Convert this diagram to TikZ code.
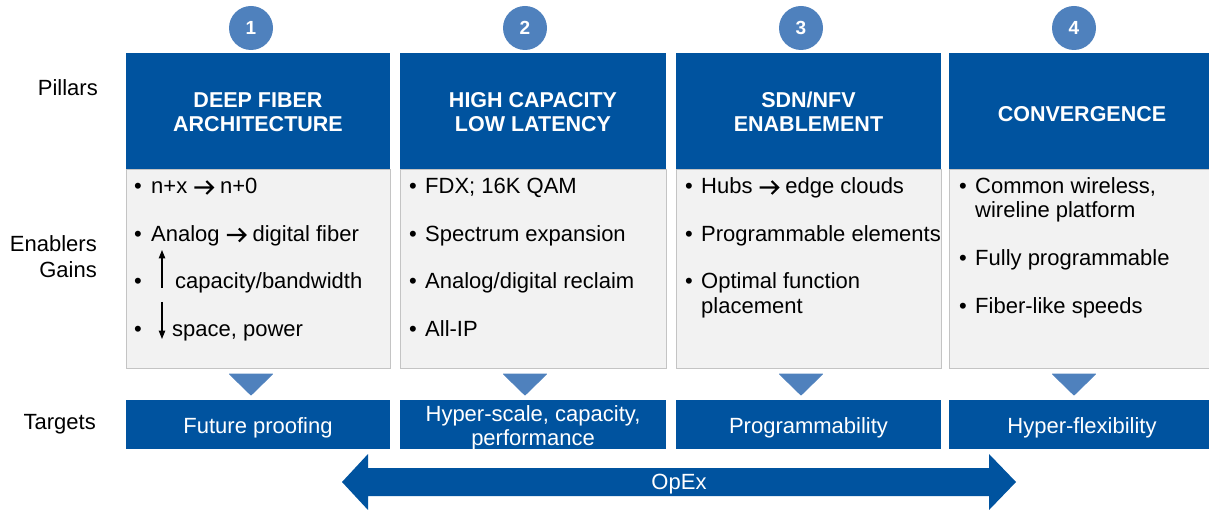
\documentclass[tikz,border=0pt]{standalone}
\usepackage{fontspec}
\setmainfont{Liberation Sans}
\usetikzlibrary{arrows.meta}
\definecolor{darkblue}{HTML}{00539F}
\definecolor{lightblue}{HTML}{4F81BD}
\definecolor{panelgray}{HTML}{F2F2F2}
\definecolor{panelline}{HTML}{C4C4C4}
\newcommand{\rarr}{\tikz[baseline=0pt,x=1pt,y=1pt]{\draw[line width=2.1pt,line join=miter,line cap=butt] (0.5,6.5) -- (19,6.5) (12.5,0) -- (19,6.5) -- (12.5,13);}}
\tikzset{
  header/.style={fill=darkblue, draw=none},
  panel/.style={fill=panelgray, draw=panelline, line width=0.8pt},
  target/.style={fill=darkblue, draw=none},
  numcircle/.style={circle, fill=lightblue, minimum size=44pt, inner sep=0pt, text=white, font=\bfseries\fontsize{19}{21}\selectfont},
  headtext/.style={text=white, align=center, inner sep=0pt, font=\bfseries\fontsize{21.5}{24}\selectfont},
  targettext/.style={text=white, align=center, inner sep=0pt, font=\fontsize{22}{24}\selectfont},
  bultext/.style={anchor=base west, inner sep=0pt, text=black, font=\fontsize{22}{24}\selectfont},
  rowlabel/.style={anchor=base east, inner sep=0pt, align=right, text=black, font=\fontsize{22}{24}\selectfont},
  pointer/.style={fill=lightblue, draw=lightblue, line width=1pt, line join=round},
  gainarrow/.style={line width=1.1pt, -{Triangle[width=6.5pt,length=8.5pt]}}
}
\begin{document}
\begin{tikzpicture}[x=1pt,y=-1pt]
\useasboundingbox (0,0) rectangle (1209,510);
\clip (0,0) rectangle (1209,510);
% row labels
\node[rowlabel] (lp) at (98,96) {Pillars};
\node[rowlabel] (le) at (97,252) {Enablers};
\node[rowlabel] (lg) at (97,278) {Gains};
\node[rowlabel] (lt) at (96,429) {Targets};
% columns
\foreach \i/\l/\r in {1/126/390, 2/400/666, 3/676/941, 4/949/1215}{
  \draw[panel] (\l,169) rectangle (\r,368);
  \fill[header] (\l,53) rectangle (\r,169);
  \fill[target] (\l,400) rectangle (\r,449);
  \pgfmathsetmacro{\cx}{\l+125}
  \node[numcircle] (c\i) at (\cx,28) {\i};
  \draw[pointer] (\cx-21.5,374) -- (\cx+21.5,374) -- (\cx,395) -- cycle;
}
% header texts
\node[headtext] (h1) at (258,112) {DEEP FIBER\\ARCHITECTURE};
\node[headtext] (h2) at (533,112) {HIGH CAPACITY\\LOW LATENCY};
\node[headtext] (h3) at (808.5,112) {SDN/NFV\\ENABLEMENT};
\node[headtext] (h4) at (1082,114) {CONVERGENCE};
% target texts
\node[targettext] (t1) at (258,427.5) {Future proofing};
\node[targettext] (t2) at (533,427.5) {Hyper-scale, capacity,\\performance};
\node[targettext] (t3) at (808.5,427.5) {Programmability};
\node[targettext] (t4) at (1082,427.5) {Hyper-flexibility};
% column 1 bullets
\node[bultext] (b11d) at (134,194) {•};
\node[bultext] (b11) at (151,194) {n+x \rarr{} n+0};
\node[bultext] (b12d) at (134,241.5) {•};
\node[bultext] (b12) at (151,241.5) {Analog \rarr{} digital fiber};
\node[bultext] (b13d) at (134,289) {•};
\node[bultext] (b13) at (175,289) {capacity/bandwidth};
\node[bultext] (b14d) at (134,336) {•};
\node[bultext] (b14) at (172,336) {space, power};
\coordinate (u0) at (162,288);
\coordinate (u1) at (162,250);
\coordinate (d0) at (162,302);
\coordinate (d1) at (162,339);
\draw[gainarrow] (u0) -- (u1);
\draw[gainarrow] (d0) -- (d1);
% column 2 bullets
\node[bultext] (b21d) at (409,194) {•};
\node[bultext] (b21) at (425,194) {FDX; 16K QAM};
\node[bultext] (b22d) at (409,241.5) {•};
\node[bultext] (b22) at (425,241.5) {Spectrum expansion};
\node[bultext] (b23d) at (409,289) {•};
\node[bultext] (b23) at (425,289) {Analog/digital reclaim};
\node[bultext] (b24d) at (409,336) {•};
\node[bultext] (b24) at (425,336) {All-IP};
% column 3 bullets
\node[bultext] (b31d) at (685,194) {•};
\node[bultext] (b31) at (701,194) {Hubs \rarr{} edge clouds};
\node[bultext] (b32d) at (685,241.5) {•};
\node[bultext] (b32) at (701,241.5) {Programmable elements};
\node[bultext] (b33d) at (685,289) {•};
\node[bultext] (b33) at (701,289) {Optimal function};
\node[bultext] (b33b) at (701,313) {placement};
% column 4 bullets
\node[bultext] (b41d) at (959,194) {•};
\node[bultext] (b41) at (975,194) {Common wireless,};
\node[bultext] (b41b) at (975,218) {wireline platform};
\node[bultext] (b42d) at (959,266) {•};
\node[bultext] (b42) at (975,266) {Fully programmable};
\node[bultext] (b43d) at (959,313) {•};
\node[bultext] (b43) at (975,313) {Fiber-like speeds};
% OpEx arrow
\fill[darkblue] (342,482) -- (368,454) -- (368,468) -- (989,468) -- (989,454)
  -- (1016,482) -- (989,510) -- (989,496) -- (368,496) -- (368,510) -- cycle;
\node[targettext] (opex) at (679,484) {OpEx};
\end{tikzpicture}
\end{document}
